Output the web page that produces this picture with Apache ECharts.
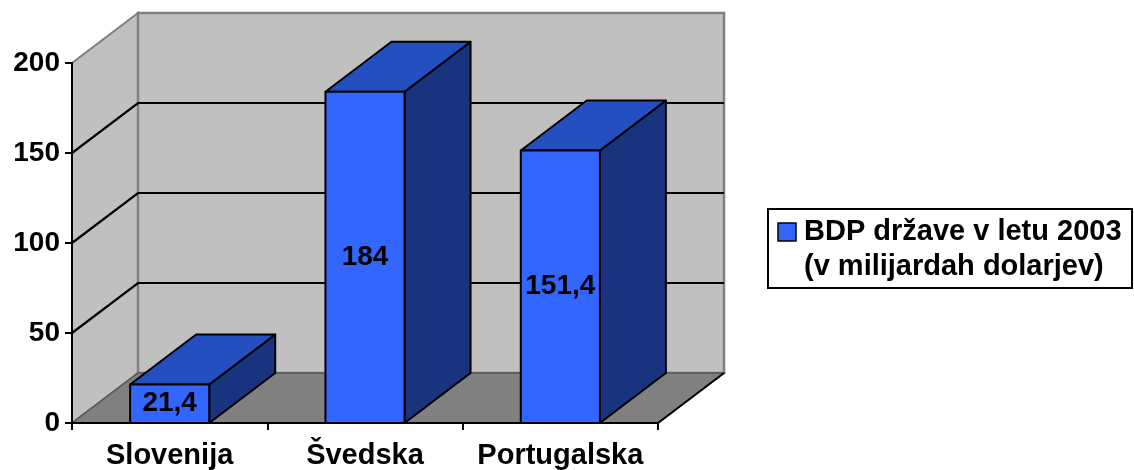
<!DOCTYPE html>
<html>
<head>
<meta charset="utf-8">
<script src="https://cdn.jsdelivr.net/npm/echarts@6/dist/echarts.min.js"></script>
<style>
  html, body { margin: 0; padding: 0; background: #ffffff; }
  #chart { width: 1134px; height: 470px; }
</style>
</head>
<body>
<div id="chart"></div>
<script>
// Data
const categories = ['Slovenija', 'Švedska', 'Portugalska'];
const gdpValues = [21.4, 184, 151.4];
const valueTicks = [0, 50, 100, 150, 200];
const seriesName = 'BDP države v letu 2003\n(v milijardah dolarjev)';

// Pseudo-3D styling
const DEPTH_X = 66;
const DEPTH_Y = -50;
const BAR_RATIO = 0.405;
const FONT = '"Liberation Sans", Arial, Helvetica, sans-serif';
const FRONT = '#3366ff';
const TOP = '#244fc0';
const SIDE = '#1a337f';
const WALL = '#c0c0c0';
const FLOOR = '#808080';

const fmt = v => String(v).replace('.', ',');

// Back wall, side wall, floor and the gridlines that run across them
function renderWalls(params, api) {
  const cs = params.coordSys;
  const x0 = cs.x, x1 = cs.x + cs.width;
  const yAt = v => api.coord([0, v])[1];
  const y0 = yAt(valueTicks[0]);
  const yT = yAt(valueTicks[valueTicks.length - 1]);
  const children = [
    { type: 'polygon', shape: { points: [[x0, y0], [x0, yT], [x0 + DEPTH_X, yT + DEPTH_Y], [x0 + DEPTH_X, y0 + DEPTH_Y]] },
      style: { fill: WALL, stroke: '#808080', lineWidth: 2 } },
    { type: 'polygon', shape: { points: [[x0 + DEPTH_X, yT + DEPTH_Y], [x1 + DEPTH_X, yT + DEPTH_Y], [x1 + DEPTH_X, y0 + DEPTH_Y], [x0 + DEPTH_X, y0 + DEPTH_Y]] },
      style: { fill: WALL, stroke: '#808080', lineWidth: 2.5 } },
    { type: 'polygon', shape: { points: [[x0, y0], [x1, y0], [x1 + DEPTH_X, y0 + DEPTH_Y], [x0 + DEPTH_X, y0 + DEPTH_Y]] },
      style: { fill: FLOOR, stroke: '#555555', lineWidth: 1.5 } },
    { type: 'line', shape: { x1: x1, y1: y0, x2: x1 + DEPTH_X, y2: y0 + DEPTH_Y },
      style: { stroke: '#000000', lineWidth: 2 } }
  ];
  valueTicks.slice(1, -1).forEach(v => {
    const y = yAt(v);
    children.push({
      type: 'polyline',
      shape: { points: [[x0, y], [x0 + DEPTH_X, y + DEPTH_Y], [x1 + DEPTH_X, y + DEPTH_Y]] },
      style: { stroke: '#000000', lineWidth: 2.2, fill: null }
    });
  });
  return { type: 'group', children };
}

// One box-shaped bar per category
function renderBar(params, api) {
  const idx = api.value(0);
  const val = api.value(1);
  const top = api.coord([idx, val]);
  const base = api.coord([idx, 0]);
  const w = api.size([1, 0])[0] * BAR_RATIO;
  const xl = top[0] - w / 2, xr = top[0] + w / 2;
  const yt = top[1], yb = base[1];
  const edge = { stroke: '#000000', lineWidth: 2, lineJoin: 'round' };
  return {
    type: 'group',
    children: [
      { type: 'polygon', shape: { points: [[xr, yt], [xr + DEPTH_X, yt + DEPTH_Y], [xr + DEPTH_X, yb + DEPTH_Y], [xr, yb]] },
        style: Object.assign({ fill: SIDE }, edge) },
      { type: 'polygon', shape: { points: [[xl, yt], [xl + DEPTH_X, yt + DEPTH_Y], [xr + DEPTH_X, yt + DEPTH_Y], [xr, yt]] },
        style: Object.assign({ fill: TOP }, edge) },
      { type: 'rect', shape: { x: xl, y: yt, width: w, height: yb - yt },
        style: Object.assign({ fill: FRONT }, edge) },
      { type: 'text', x: top[0], y: (yt + yb) / 2,
        style: { text: fmt(val), fill: '#000000', font: 'bold 28px ' + FONT, align: 'center', verticalAlign: 'middle' } }
    ]
  };
}

const chart = echarts.init(document.getElementById('chart'), null, { renderer: 'canvas' });

chart.setOption({
  backgroundColor: '#ffffff',
  animation: false,
  grid: { left: 72, right: 476, top: 63, bottom: 47, containLabel: false },
  xAxis: {
    type: 'category',
    data: categories,
    boundaryGap: true,
    z: 5,
    axisLine: { show: true, lineStyle: { color: '#000000', width: 2 } },
    axisTick: { show: true, interval: 0, length: 7, alignWithLabel: false, lineStyle: { color: '#000000', width: 2 } },
    axisLabel: { interval: 0, hideOverlap: false, margin: 18, color: '#000000', fontFamily: FONT, fontWeight: 'bold', fontSize: 29 },
    splitLine: { show: false }
  },
  yAxis: {
    type: 'value',
    min: valueTicks[0],
    max: valueTicks[valueTicks.length - 1],
    interval: valueTicks[1] - valueTicks[0],
    z: 5,
    axisLine: { show: true, lineStyle: { color: '#000000', width: 2 } },
    axisTick: { show: true, length: 7, lineStyle: { color: '#000000', width: 2 } },
    axisLabel: { margin: 12, color: '#000000', fontFamily: FONT, fontWeight: 'bold', fontSize: 28 },
    splitLine: { show: false }
  },
  series: [
    {
      type: 'custom',
      name: 'walls',
      silent: true,
      clip: false,
      z: 1,
      renderItem: renderWalls,
      data: [[0, 0]]
    },
    {
      type: 'custom',
      name: seriesName,
      clip: false,
      z: 3,
      renderItem: renderBar,
      encode: { x: 0, y: 1 },
      data: gdpValues.map((v, i) => [i, v])
    }
  ],
  graphic: [
    {
      type: 'group',
      left: 767,
      top: 208,
      children: [
        { type: 'rect', shape: { x: 0, y: 0, width: 364, height: 79 },
          style: { fill: '#ffffff', stroke: '#000000', lineWidth: 2 } },
        { type: 'rect', shape: { x: 10, y: 14, width: 18, height: 18 },
          style: { fill: FRONT, stroke: '#000000', lineWidth: 1.5 } },
        { type: 'text', x: 36, y: 5,
          style: { text: seriesName, fill: '#000000', font: 'bold 29px ' + FONT, lineHeight: 35, align: 'left', verticalAlign: 'top' } }
      ]
    }
  ]
});
</script>
</body>
</html>
